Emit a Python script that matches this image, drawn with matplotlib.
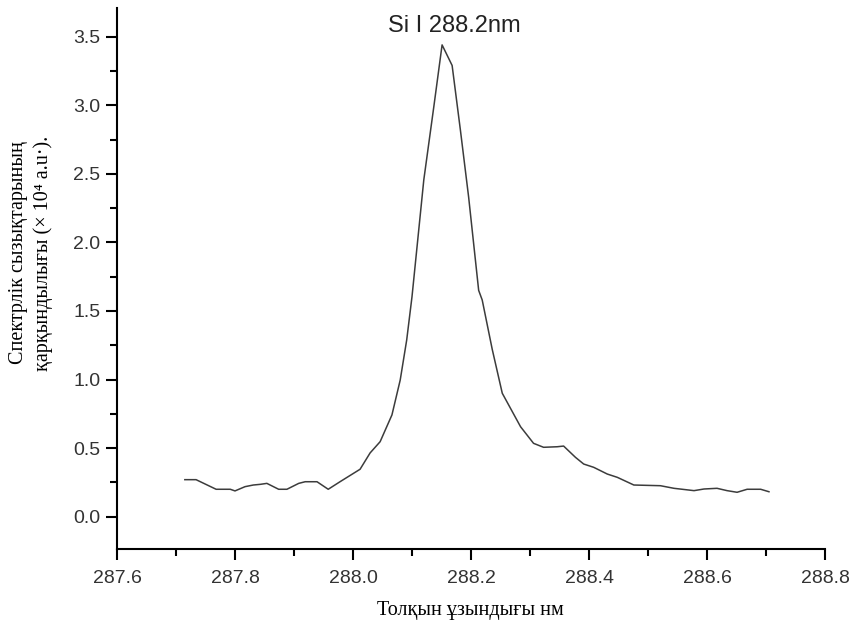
import numpy as np
import matplotlib
matplotlib.use("Agg")
import matplotlib.pyplot as plt
from matplotlib.ticker import MultipleLocator

# wavelength (nm) and intensity (x 10^4 a.u.)
wavelength = [287.715, 287.734, 287.768, 287.792, 287.800, 287.817, 287.831, 287.843,
              287.854, 287.874, 287.888, 287.908, 287.919, 287.939, 287.958, 287.978,
              288.012, 288.029, 288.046, 288.066, 288.080, 288.091, 288.100, 288.120,
              288.137, 288.151, 288.168, 288.182, 288.196, 288.213, 288.219, 288.236,
              288.253, 288.284, 288.306, 288.323, 288.346, 288.357, 288.377, 288.391,
              288.408, 288.431, 288.448, 288.476, 288.521, 288.544, 288.578, 288.595,
              288.617, 288.634, 288.651, 288.668, 288.691, 288.705]
intensity = [0.270, 0.270, 0.200, 0.200, 0.188, 0.219, 0.231, 0.236,
             0.243, 0.200, 0.200, 0.243, 0.255, 0.255, 0.200, 0.255,
             0.346, 0.465, 0.547, 0.742, 0.996, 1.288, 1.604, 2.456,
             2.990, 3.440, 3.290, 2.820, 2.330, 1.650, 1.580, 1.220,
             0.900, 0.656, 0.535, 0.506, 0.510, 0.515, 0.433, 0.384,
             0.360, 0.311, 0.287, 0.231, 0.226, 0.207, 0.190, 0.202,
             0.207, 0.190, 0.178, 0.200, 0.200, 0.182]

title = "Si I 288.2nm"
xlabel = "Толқын ұзындығы нм"
ylabel = "Спектрлік сызықтарының\nқарқындылығы (× 10⁴ a.u·)."

W, H = 852, 623
fig = plt.figure(figsize=(W / 100, H / 100), dpi=100)
ax = fig.add_axes([117 / W, (H - 549) / H, (825 - 117) / W, (549 - 8) / H])

ax.plot(wavelength, intensity, color="#3c3c3c", lw=1.1)

ax.set_xlim(287.6, 288.8)
ax.set_ylim(-0.2355, 3.709)
ax.xaxis.set_major_locator(MultipleLocator(0.2))
ax.xaxis.set_minor_locator(MultipleLocator(0.1))
ax.yaxis.set_major_locator(MultipleLocator(0.5))
ax.yaxis.set_minor_locator(MultipleLocator(0.25))
ax.xaxis.set_major_formatter(plt.FormatStrFormatter("%.1f"))
ax.yaxis.set_major_formatter(plt.FormatStrFormatter("%.1f"))

for s in ["top", "right"]:
    ax.spines[s].set_visible(False)
for s in ["left", "bottom"]:
    ax.spines[s].set_linewidth(1.5)

ax.tick_params(which="major", direction="out", length=8, width=1.5,
               labelsize=14, labelcolor="#333333")
ax.tick_params(which="minor", direction="out", length=5, width=1.5)
ax.tick_params(axis="x", pad=7)
ax.tick_params(axis="y", pad=4)
for lab in ax.get_xticklabels() + ax.get_yticklabels():
    lab.set_family(["Liberation Sans", "DejaVu Sans"])

ax.text(0.477, 0.966, title, transform=ax.transAxes, ha="center", va="center",
        fontsize=17, family=["Liberation Sans", "DejaVu Sans"], color="#222222")

fig.text(31 / W, (H - 253) / H, ylabel, rotation=90, ha="center", va="center",
         multialignment="center", fontsize=14.5, linespacing=1.35,
         family=["Liberation Serif", "DejaVu Serif"])
fig.text(470 / W, (H - 610) / H, xlabel, ha="center", va="center",
         fontsize=14.5, family=["Liberation Serif", "DejaVu Serif"])

fig.savefig("out.png", dpi=100)
